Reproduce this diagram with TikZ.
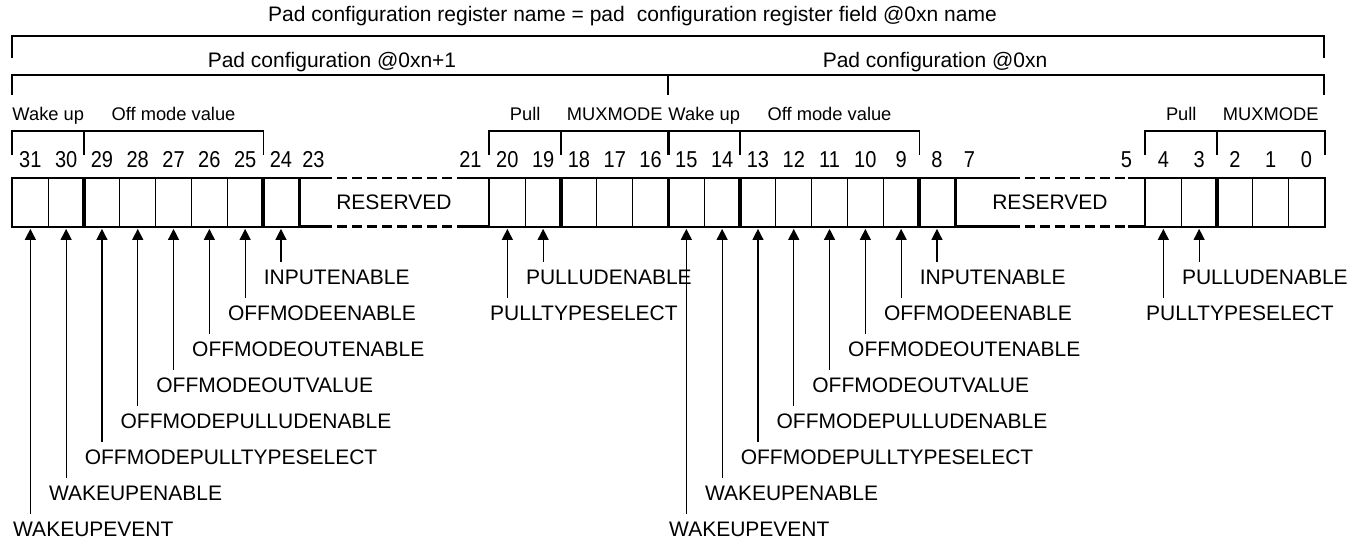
\documentclass[tikz,border=0pt]{standalone}
\usepackage{fontspec}
\setmainfont{Liberation Sans}
\newfontfamily\numfont[FakeStretch=0.87]{Liberation Sans}
\usetikzlibrary{arrows.meta,calc,positioning}
\tikzset{
  cell/.style={draw=black, line width=0.9pt, minimum width=35.8pt, minimum height=48pt,
               inner sep=0pt, anchor=north west},
  rsv/.style={minimum width=190.6pt, minimum height=48pt, inner sep=0pt, anchor=north west,
              font=\fontsize{21}{25}\selectfont},
  grpbox/.style={draw=black, line width=2.4pt},
  grp/.style={draw=black, line width=1.8pt},
  toplbl/.style={font=\fontsize{21}{25}\selectfont, anchor=base, inner sep=0pt},
  bitnum/.style={font=\numfont\fontsize{23}{27}\selectfont, anchor=base, inner sep=0pt},
  grplbl/.style={font=\fontsize{18.3}{22}\selectfont, anchor=base, inner sep=0pt},
  fld/.style={font=\fontsize{21}{25}\selectfont, anchor=west, inner sep=0pt},
  ptr/.style={line width=1.2pt, -{Triangle[length=11pt,width=11pt]}, shorten >=2pt},
}

\begin{document}
\begin{tikzpicture}[x=1pt,y=-1pt]
\useasboundingbox (0,0) rectangle (1361,540);
% ===================== register name and the two halves
\node[toplbl, anchor=base west] (title) at (268,22)
  {Pad configuration register name = pad\hspace{0.3em} configuration register field @0xn name};
\draw[grp] (12,58) |- (1324,36) -- (1324,58);
\node[toplbl] (hi) at (332,68) {Pad configuration @0xn+1};
\node[toplbl] (lo) at (935,68) {Pad configuration @0xn};
\draw[grp] (12,95) |- (1324,75) -- (1324,95);
\draw[grp] (668,75) -- (668,95);
% ===================== one pad field per half (h=1: bits 31..16, h=0: bits 15..0)
\foreach \h/\off/\da/\db in {1/0/24/32, 0/656/56/17}{
  % cells
  \foreach \b in {15,...,8}{
    \pgfmathtruncatemacro{\bit}{16*\h+\b}
    \node[cell] (c\bit) at ({12+\off+(15-\b)*35.8},178) {};
  }
  \node[rsv] (r\h) at ({12+\off+8*35.8},178) {RESERVED};
  \foreach \b in {4,...,0}{
    \pgfmathtruncatemacro{\bit}{16*\h+\b}
    \node[cell] (c\bit) at ({489+\off+(4-\b)*35.8},178) {};
  }
  % thick frames round the groups
  \foreach \a/\b in {15/14,13/9,8/8,4/3,2/0}{
    \pgfmathtruncatemacro{\A}{16*\h+\a}
    \pgfmathtruncatemacro{\B}{16*\h+\b}
    \draw[grpbox] (c\A.north west) rectangle (c\B.south east);
  }
  % reserved part: solid ends, dashed middle
  \foreach \s in {north,south}{
    \draw[grpbox] (r\h.\s\space west) -- ($(r\h.\s\space west)+(\da,0)$);
    \draw[grpbox, dash pattern=on 10pt off 5pt] ($(r\h.\s\space west)+(\da,0)$) -- ($(r\h.\s\space east)-(\db,0)$);
    \draw[grpbox] ($(r\h.\s\space east)-(\db,0)$) -- (r\h.\s\space east);
  }
  % bit numbers
  \foreach \b in {15,14,13,12,11,10,9,8,4,3,2,1,0}{
    \pgfmathtruncatemacro{\bit}{16*\h+\b}
    \node[bitnum] (n\bit) at (c\bit.center |- 0,168) {\bit};
  }
  \pgfmathtruncatemacro{\ra}{16*\h+7}
  \pgfmathtruncatemacro{\rb}{16*\h+5}
  \node[bitnum] (n\ra) at ($(r\h.north west |- 0,168)+(15,0)$) {\ra};
  \node[bitnum] (n\rb) at ($(r\h.north east |- 0,168)+(-19,0)$) {\rb};
  % group brackets
  \foreach \a/\b/\txt in {15/14/Wake up, 13/9/Off mode value, 4/3/Pull, 2/0/MUXMODE}{
    \pgfmathtruncatemacro{\A}{16*\h+\a}
    \pgfmathtruncatemacro{\B}{16*\h+\b}
    \draw[grp] ([yshift=23pt]c\A.north west) -- ([yshift=47pt]c\A.north west)
      -- ([yshift=47pt]c\B.north east) -- ([yshift=23pt]c\B.north east);
    \node[grplbl] (g\A) at ($(c\A.north west)!0.5!(c\B.north east)+(0,-57)$) {\txt};
  }
  % field names
  \foreach \b/\row/\name in {15/7/WAKEUPEVENT, 14/6/WAKEUPENABLE, 13/5/OFFMODEPULLTYPESELECT,
      12/4/OFFMODEPULLUDENABLE, 11/3/OFFMODEOUTVALUE, 10/2/OFFMODEOUTENABLE,
      9/1/OFFMODEENABLE, 8/0/INPUTENABLE, 4/1/PULLTYPESELECT, 3/0/PULLUDENABLE}{
    \pgfmathtruncatemacro{\bit}{16*\h+\b}
    \pgfmathsetmacro{\ly}{277+36*\row}
    \pgfmathsetmacro{\ey}{\ly-15}
    \node[fld, xshift=1pt] (l\bit) at (c\bit.west |- 0,\ly) {\name};
    \coordinate (e\bit) at (c\bit.south |- 0,\ey);
    \draw[ptr] (e\bit) -- (c\bit.south);
  }
}
\end{tikzpicture}
\end{document}
